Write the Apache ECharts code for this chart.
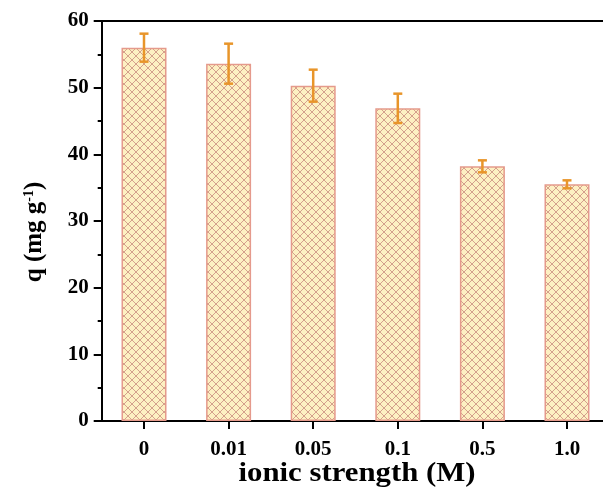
<!DOCTYPE html>
<html>
<head>
<meta charset="utf-8">
<script src="https://cdn.jsdelivr.net/npm/echarts@6/dist/echarts.min.js"></script>
<style>
html,body{margin:0;padding:0;background:#fff;}
#chart{width:603px;height:492px;}
</style>
</head>
<body>
<div id="chart"></div>
<script>
// ---- data ----
var categories = ['0', '0.01', '0.05', '0.1', '0.5', '1.0'];
var qValues = [56.0, 53.6, 50.3, 46.9, 38.2, 35.5];
var qErrors = [2.1, 3.0, 2.4, 2.2, 0.9, 0.6];
var yTicks = [0, 10, 20, 30, 40, 50, 60];
var xTitle = 'ionic strength (M)';

// ---- hatch pattern ----
function makeHatch() {
  var s = 8;
  var c = document.createElement('canvas');
  c.width = s; c.height = s;
  var g = c.getContext('2d');
  g.fillStyle = '#fdf0c2';
  g.fillRect(0, 0, s, s);
  g.strokeStyle = '#d4a08c';
  g.lineWidth = 1;
  g.beginPath();
  g.moveTo(0, 0); g.lineTo(s, s);
  g.moveTo(s, 0); g.lineTo(0, s);
  g.stroke();
  return c;
}

var font = '"Liberation Serif", "Times New Roman", serif';
var chart = echarts.init(document.getElementById('chart'), null, {renderer: 'canvas'});

var errData = qValues.map(function (v, i) { return [i, v - qErrors[i], v + qErrors[i]]; });

chart.setOption({
  animation: false,
  backgroundColor: '#ffffff',
  grid: {left: 101.7, top: 21, width: 507.6, height: 400, containLabel: false, outerBoundsMode: 'none'},
  xAxis: [{
    type: 'category',
    data: categories,
    position: 'bottom',
    boundaryGap: true,
    axisLine: {show: true, lineStyle: {color: '#000', width: 2}},
    axisTick: {show: true, alignWithLabel: true, length: 8, inside: false, lineStyle: {color: '#000', width: 2}},
    axisLabel: {show: true, margin: 18, color: '#000', fontFamily: font, fontWeight: 'bold', fontSize: 21},
    splitLine: {show: false}
  }, {
    type: 'category',
    data: categories,
    position: 'top',
    axisLine: {show: true, lineStyle: {color: '#000', width: 2}},
    axisTick: {show: false},
    axisLabel: {show: false},
    splitLine: {show: false}
  }],
  yAxis: [{
    type: 'value',
    min: 0, max: 60, interval: 10,
    position: 'left',
    axisLine: {show: true, lineStyle: {color: '#000', width: 2}},
    axisTick: {show: true, length: 8, inside: false, lineStyle: {color: '#000', width: 2}},
    minorTick: {show: true, splitNumber: 2, length: 4, lineStyle: {color: '#000', width: 2}},
    axisLabel: {
      show: true, margin: 13, color: '#000', fontFamily: font, fontWeight: 'bold', fontSize: 21,
      formatter: function (v) { return yTicks.indexOf(v) >= 0 ? String(v) : ''; }
    },
    splitLine: {show: false},
    minorSplitLine: {show: false}
  }],
  graphic: [{
    type: 'text',
    x: 35, y: 232,
    rotation: Math.PI / 2,
    style: {
      text: '{t|q (mg g}{s|-1}{t|)}',
      align: 'center',
      verticalAlign: 'middle',
      rich: {
        t: {fontFamily: font, fontWeight: 'bold', fontSize: 25, fill: '#000', color: '#000', verticalAlign: 'bottom'},
        s: {fontFamily: font, fontWeight: 'bold', fontSize: 14, fill: '#000', color: '#000', verticalAlign: 'top', padding: [0, 0, 10, 0]}
      }
    }
  }, {
    type: 'text',
    x: 357, y: 474,
    scaleX: 1.14,
    style: {
      text: xTitle,
      align: 'center',
      verticalAlign: 'middle',
      fontFamily: font, fontWeight: 'bold', fontSize: 27, fill: '#000'
    }
  }],
  series: [{
    type: 'bar',
    data: qValues,
    barWidth: 45,
    itemStyle: {
      color: {image: makeHatch(), repetition: 'repeat'},
      borderColor: '#e59a8c',
      borderWidth: 1.5
    },
    z: 2
  }, {
    type: 'custom',
    data: errData,
    z: 5,
    renderItem: function (params, api) {
      var x = api.value(0);
      var lo = api.coord([x, api.value(1)]);
      var hi = api.coord([x, api.value(2)]);
      var hw = 4.5;
      var st = {stroke: '#e8952a', lineWidth: 2.5};
      return {
        type: 'group',
        children: [
          {type: 'line', shape: {x1: lo[0], y1: lo[1], x2: hi[0], y2: hi[1]}, style: st},
          {type: 'line', shape: {x1: lo[0] - hw, y1: lo[1], x2: lo[0] + hw, y2: lo[1]}, style: st},
          {type: 'line', shape: {x1: hi[0] - hw, y1: hi[1], x2: hi[0] + hw, y2: hi[1]}, style: st}
        ]
      };
    }
  }]
});
</script>
</body>
</html>
